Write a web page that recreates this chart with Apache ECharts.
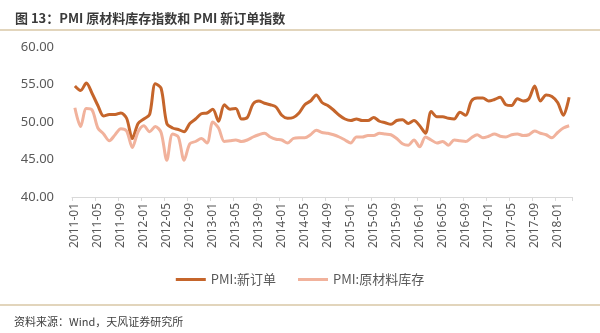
<!DOCTYPE html>
<html>
<head>
<meta charset="utf-8">
<script src="https://cdn.jsdelivr.net/npm/echarts@6/dist/echarts.min.js"></script>
<style>
html,body{margin:0;padding:0;background:#fff;}
#c{width:600px;height:333px;}
</style>
</head>
<body>
<div id="c"></div>
<script>
var yTicks = [40, 45, 50, 55, 60];
var newOrders = [
  54.8, 54.2, 55.2, 53.8, 52.2, 50.8, 51.0, 51.0, 51.2, 50.5, 47.8, 49.8,
  50.4, 51.0, 55.1, 54.5, 49.8, 49.2, 49.0, 48.7, 49.8, 50.4, 51.1, 51.2,
  51.7, 50.1, 52.3, 51.7, 51.8, 50.4, 50.6, 52.4, 52.8, 52.5, 52.3, 52.0,
  50.9, 50.5, 50.6, 51.2, 52.3, 52.8, 53.6, 52.6, 52.2, 51.6, 50.9, 50.4,
  50.2, 50.4, 50.2, 50.2, 50.6, 50.1, 49.9, 49.7, 50.2, 50.3, 49.8, 50.2,
  49.5, 48.5, 51.4, 50.7, 50.7, 50.5, 50.4, 51.3, 50.9, 52.8, 53.2, 53.2,
  52.8, 53.0, 53.3, 52.3, 52.2, 53.1, 52.8, 53.1, 54.8, 52.8, 53.6, 53.4,
  52.6, 50.9, 53.3
];
var inventory = [
  51.9, 49.4, 51.8, 51.6, 49.2, 48.4, 47.5, 48.3, 49.1, 48.8, 46.6, 48.7,
  49.5, 48.7, 49.4, 48.6, 44.9, 48.4, 48.0, 44.9, 47.1, 47.4, 47.8, 47.2,
  50.0, 49.2, 47.4, 47.5, 47.6, 47.4, 47.6, 48.0, 48.3, 48.5, 48.0, 47.7,
  47.6, 47.2, 47.8, 47.9, 47.9, 48.3, 48.9, 48.6, 48.5, 48.3, 48.0, 47.6,
  47.2, 48.0, 48.0, 48.2, 48.2, 48.5, 48.4, 48.3, 47.8, 47.1, 46.9, 47.6,
  46.7, 48.0, 47.6, 47.2, 47.4, 46.9, 47.6, 47.5, 47.4, 47.9, 48.3, 47.9,
  48.1, 48.4, 48.1, 48.0, 48.3, 48.4, 48.2, 48.3, 48.8, 48.5, 48.3, 47.9,
  48.6, 49.2, 49.5
];
var startYear = 2011;
var categories = [];
for (var i = 0; i < newOrders.length; i++) {
  var y = startYear + Math.floor(i / 12);
  var m = (i % 12) + 1;
  categories.push(y + '-' + (m < 10 ? '0' + m : m));
}
var seriesNames = ['PMI:新订单', 'PMI:原材料库存'];
var colors = ['#C5652B', '#F1B29C'];

var chart = echarts.init(document.getElementById('c'), null, {renderer: 'canvas'});
chart.setOption({
  animation: false,
  backgroundColor: '#fff',
  textStyle: {fontFamily: 'Noto Sans CJK SC, Noto Sans, sans-serif'},
  title: [{
    text: '图 13：PMI 原材料库存指数和 PMI 新订单指数',
    left: 10, top: 7,
    textStyle: {fontSize: 13, fontWeight: 'bold', color: '#3a3a3a', fontFamily: 'Noto Sans CJK SC'}
  }, {
    text: '资料来源：Wind，天风证券研究所',
    left: 9, top: 311,
    textStyle: {fontSize: 11, fontWeight: 'normal', color: '#404040', fontFamily: 'Noto Sans CJK SC'}
  }],
  graphic: [
    {type: 'line', shape: {x1: 0, y1: 30, x2: 600, y2: 30}, style: {stroke: '#d8c7a6', lineWidth: 1.5}},
    {type: 'line', shape: {x1: 0, y1: 305, x2: 600, y2: 305}, style: {stroke: '#d8c7a6', lineWidth: 1.5}}
  ],
  legend: {
    data: seriesNames,
    bottom: 42,
    left: 'center',
    itemWidth: 30,
    itemHeight: 3,
    itemGap: 22,
    icon: 'rect',
    textStyle: {fontSize: 13, color: '#595959', fontFamily: 'Noto Sans CJK SC'}
  },
  grid: {left: 72, right: 28, top: 47, bottom: 136, containLabel: false},
  xAxis: {
    type: 'category',
    data: categories,
    boundaryGap: true,
    axisLine: {lineStyle: {color: '#d9d9d9'}},
    axisTick: {show: true, interval: 3, lineStyle: {color: '#d9d9d9'}, length: 4},
    axisLabel: {
      interval: 3, rotate: 90, fontSize: 12, color: '#595959', margin: 6,
      fontFamily: 'Noto Sans, sans-serif'
    }
  },
  yAxis: {
    type: 'value',
    min: yTicks[0], max: yTicks[yTicks.length - 1], interval: 5,
    axisLine: {show: false},
    axisTick: {show: false},
    splitLine: {show: false},
    axisLabel: {
      fontSize: 13, color: '#595959', margin: 18,
      fontFamily: 'Noto Sans, sans-serif',
      formatter: function (v) { return v.toFixed(2); }
    }
  },
  series: [{
    name: seriesNames[0], type: 'line', data: newOrders, smooth: 0.3,
    showSymbol: false, lineStyle: {color: colors[0], width: 3}, itemStyle: {color: colors[0]}
  }, {
    name: seriesNames[1], type: 'line', data: inventory, smooth: 0.3,
    showSymbol: false, lineStyle: {color: colors[1], width: 3}, itemStyle: {color: colors[1]}
  }]
});
</script>
</body>
</html>
